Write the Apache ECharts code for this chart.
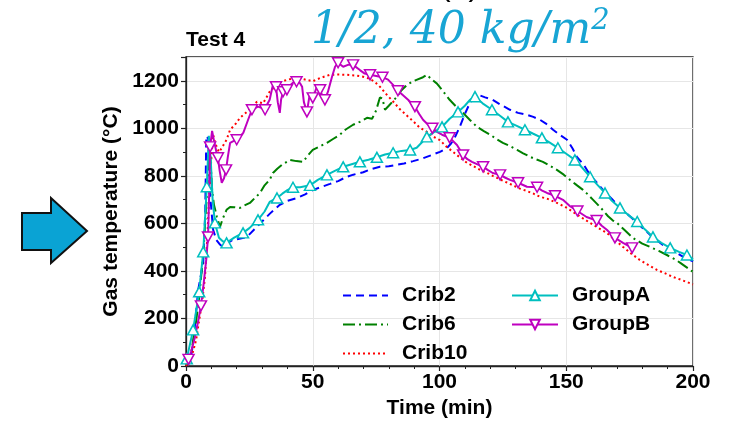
<!DOCTYPE html>
<html>
<head>
<meta charset="utf-8">
<script src="https://cdn.jsdelivr.net/npm/echarts@6/dist/echarts.min.js"></script>
<style>
  html, body { margin: 0; padding: 0; background: #fff; }
  #chart { width: 735px; height: 425px; }
</style>
</head>
<body>
<div id="chart"></div>
<script>
// time (min), gas temperature (°C)
const crib2 = [
  [0, 0], [1, 10], [2, 40], [3, 110], [4.8, 320], [6.8, 434], [7.6, 650], [8, 968], [8.8, 955], [9.5, 720],
  [10.7, 573], [12, 530], [13.5, 510], [14.6, 501], [16, 515], [18.5, 531], [21, 535], [24, 543], [27, 575],
  [30.4, 612], [33, 640], [37, 678], [40, 695], [43.8, 707], [47, 722], [50, 740], [53, 752], [56.8, 766],
  [60, 778], [63.4, 796], [66, 805], [69.9, 815], [73, 828], [76.5, 838], [80, 840], [83, 846], [86, 852],
  [89.6, 862], [93, 872], [97.5, 890], [100.2, 901], [103, 918], [104.5, 935], [106, 960], [108, 1006],
  [110, 1060], [112, 1107], [114, 1135], [115.2, 1141], [118, 1130], [121, 1120], [124, 1100], [127.8, 1078],
  [131, 1065], [134.5, 1057], [137, 1048], [139.6, 1036], [142, 1020], [144.8, 994], [147.5, 972],
  [150.3, 952], [152.5, 915], [154.2, 880], [157, 845], [159.4, 803], [162, 772], [164.5, 741], [168, 703],
  [171.2, 665], [174, 640], [176.3, 618], [180, 582], [184, 543], [188, 510], [192, 485], [196, 460], [200, 440]
];
const crib6 = [
  [0, 0], [1, 15], [2, 50], [3, 120], [4, 190], [5, 270], [6, 380], [7, 500], [8, 680], [8.7, 820], [9.5, 900],
  [10.3, 741], [11, 680], [12.2, 627], [13.4, 585], [14.5, 620], [16, 657], [17.4, 669], [19, 668], [21.3, 665],
  [23, 675], [25.2, 686], [27, 705], [29.2, 728], [31, 760], [33, 783], [34.3, 812], [36, 830], [38, 848],
  [41, 867], [43.5, 862], [46.2, 859], [48, 885], [50, 909], [53, 925], [55.6, 939], [58, 955], [60.7, 973],
  [63, 995], [65.9, 1015], [68.6, 1027], [71.4, 1044], [73.4, 1040], [75, 1075], [76.5, 1130], [77.5, 1125],
  [78.5, 1078], [80, 1095], [83.2, 1133], [85, 1160], [87.2, 1183], [90, 1200], [93.5, 1215], [95, 1225],
  [97, 1205], [99, 1188], [101.5, 1155], [104, 1120], [106.5, 1092], [109.3, 1065], [112, 1035], [114.8, 1006],
  [117.5, 988], [120, 973], [122.5, 955], [125, 939], [127.8, 925], [130.6, 909], [133, 895], [135.7, 880],
  [138, 870], [140.8, 859], [143.5, 843], [146.3, 825], [149, 805], [151.5, 783], [154, 762], [156.6, 741],
  [158.5, 722], [160.6, 699], [162.5, 678], [164.5, 655], [166.5, 630], [168.4, 612], [170, 602], [173, 572],
  [176.3, 539], [180, 515], [183, 501], [186.5, 484], [189.7, 467], [193, 448], [195, 434], [197.5, 415], [200, 396]
];
const crib10 = [
  [0, 0], [2, 30], [4, 110], [5, 180], [6.3, 265], [7.5, 375], [8.5, 560], [9.5, 800], [10.7, 973], [11.4, 943],
  [12.1, 922], [13, 900], [14, 915], [16, 952], [17.4, 994], [19.3, 1015], [21.3, 1044], [24, 1069], [26, 1090],
  [28, 1112], [30.4, 1105], [33, 1154], [35.8, 1183], [37.5, 1195], [39.8, 1204], [43.8, 1213], [47, 1205],
  [50, 1198], [53, 1212], [56.8, 1225], [60, 1226], [63.5, 1225], [67, 1222], [69.8, 1217], [72, 1210],
  [73.8, 1200], [75, 1190], [76.5, 1175], [79.3, 1140], [81.5, 1115], [84.4, 1080], [87, 1055], [89.6, 1030],
  [92, 1005], [95, 985], [97.5, 965], [100.2, 950], [102.5, 925], [105.3, 901], [108, 878], [110.8, 855],
  [113.5, 840], [116, 825], [118.5, 814], [121, 800], [123.5, 787], [126.6, 772], [129, 760], [131.8, 746],
  [134.5, 736], [136.9, 726], [139.6, 712], [142.4, 704], [146.3, 686], [149.5, 670], [152.7, 648], [156, 625],
  [159.4, 602], [162.5, 582], [166, 560], [169, 532], [172.4, 501], [176, 470], [179, 446], [182.5, 424],
  [185.8, 404], [189, 390], [192, 375], [196, 360], [200, 343]
];
const groupA = [
  [0.3, 30], [2.8, 152], [5.2, 312], [6.8, 480], [8.2, 754], [9, 968], [9.8, 860], [10.5, 700], [11.4, 602],
  [13, 540], [14.5, 525], [16, 518], [19, 540], [22.5, 560], [25, 580], [28.4, 615], [31, 650], [33, 690],
  [35.9, 707], [38, 725], [40, 740], [42.2, 752], [45, 752], [48.9, 760], [52, 783], [55.6, 804], [58.5, 820],
  [62, 838], [65, 848], [68.6, 859], [72, 868], [75.3, 878], [78.5, 890], [81.7, 897], [85, 905], [88.4, 909],
  [91, 918], [93, 940], [95, 964], [98, 985], [101, 1006], [104, 1040], [107.3, 1069], [110, 1095], [112, 1120],
  [114, 1133], [117, 1105], [120.7, 1078], [124, 1052], [127, 1027], [130.5, 1010], [133.7, 994], [137, 977],
  [140.4, 960], [143.5, 940], [146.7, 918], [150, 893], [153.4, 867], [156.5, 832], [159.4, 796], [162.5, 760],
  [165.3, 728], [168, 695], [171.2, 665], [174.5, 635], [178, 608], [181, 575], [184.2, 543], [187.5, 518],
  [191, 497], [194.5, 480], [197.6, 467], [200, 450]
];
const groupAMarks = [
  0.3, 2.8, 5.2, 6.8, 8.2, 11.4, 16, 22.5, 28.4, 35.9, 42.2, 48.9, 55.6, 62, 68.6, 75.3, 81.7, 88.4, 95, 101,
  107.3, 114, 120.7, 127, 133.7, 140.4, 146.7, 153.4, 159.4, 165.3, 171.2, 178, 184.2, 191, 197.6
];
const groupB = [
  [0, 20], [1, 28], [2, 60], [3.5, 120], [5, 200], [5.9, 253], [7, 350], [8, 450], [8.7, 543], [9.2, 750],
  [9.5, 922], [10.3, 989], [11, 950], [12, 900], [12.6, 876], [13.3, 820], [14.1, 771], [15, 790], [15.8, 825],
  [16.5, 880], [17.4, 939], [18.5, 945], [20, 952], [22.6, 981], [24.5, 1036], [26, 1078], [28.4, 1091],
  [30, 1085], [31.2, 1078], [32, 1100], [33, 1120], [34.3, 1183], [35.5, 1175], [36.2, 1110], [37, 1065],
  [37.5, 1120], [38.3, 1154], [39.8, 1162], [41, 1180], [42.2, 1192], [43.6, 1196], [45, 1190], [45.8, 1175],
  [46.5, 1110], [47.7, 1069], [48.9, 1149], [50, 1128], [50.8, 1150], [51.6, 1175], [52.9, 1162], [54, 1130],
  [54.8, 1120], [56, 1154], [57.6, 1217], [58.8, 1259], [60, 1276], [62, 1259], [63.9, 1267], [65.9, 1267],
  [68.6, 1245], [70.5, 1230], [72.6, 1225], [77.5, 1215], [79.7, 1205], [81.5, 1185], [83.6, 1158], [85.5, 1140],
  [87.6, 1120], [90.3, 1091], [92, 1060], [93.5, 1036], [95, 1020], [97.2, 1000], [99, 985], [101, 973],
  [104, 960], [106.9, 930], [109.3, 888], [111, 870], [112.8, 859], [115, 848], [117.2, 838], [119, 825],
  [121, 812], [123.9, 804], [126, 792], [127.8, 783], [131, 771], [134.5, 754], [138.5, 752], [140.5, 738],
  [142.4, 728], [145.6, 716], [148.7, 699], [151.5, 672], [154.4, 652], [158, 627], [162, 612], [164, 590],
  [166, 573], [169.2, 539], [172.4, 518], [176, 497], [176.7, 495]
];
const groupBMarks = [
  1, 5.9, 8.7, 9.5, 12.6, 15.8, 20, 26, 31.2, 35.5, 38.3, 39.8, 43.6, 47.7, 50, 52.9, 54.8, 60, 65.9, 72.6,
  77.5, 83.6, 90.3, 97.2, 104, 109.3, 117.2, 123.9, 131, 138.5, 145.6, 154.4, 162, 169.2, 176
];
const xTicks = [0, 50, 100, 150, 200];
const yTicks = [0, 200, 400, 600, 800, 1000, 1200];

const FONT = 'Liberation Sans';
const FS = 21;
const chart = echarts.init(document.getElementById('chart'));

const withMarks = (pts, marks) =>
  pts.map((p) => (marks.includes(p[0]) ? p : { value: p, symbol: 'none' }));

const plainLine = (name, data, color, dash) => ({
  name,
  type: 'line',
  data,
  showSymbol: false,
  symbol: 'none',
  lineStyle: { color, width: 2, type: dash },
  itemStyle: { color },
  z: 2
});

const markedLine = (name, data, marks, color, symbol) => ({
  name,
  type: 'line',
  data: withMarks(data, marks),
  symbol,
  symbolSize: [11, 10],
  showSymbol: true,
  showAllSymbol: true,
  lineStyle: { color, width: 2 },
  itemStyle: { color: '#fff', borderColor: color, borderWidth: 1.5 },
  z: 3
});

const legendText = {
  fontFamily: FONT, fontWeight: 'bold', fontSize: FS, color: '#000',
  lineHeight: 21, padding: [0, 0, 0, 9]
};
const boldText = { fontFamily: FONT, fontWeight: 'bold', fontSize: FS, color: '#000' };

const option = {
  animation: false,
  backgroundColor: '#fff',
  grid: {
    left: 186, right: 42, top: 57, bottom: 59,
    show: true, borderColor: '#222', borderWidth: 1.3
  },
  legend: [
    {
      data: ['Crib2', 'Crib6', 'Crib10'],
      orient: 'vertical', left: 337, top: 280,
      itemWidth: 45, itemHeight: 12, itemGap: 8,
      itemStyle: { opacity: 0 },
      textStyle: legendText
    },
    {
      data: ['GroupA', 'GroupB'],
      orient: 'vertical', left: 506, top: 280,
      itemWidth: 46, itemHeight: 12, itemGap: 8,
      textStyle: legendText
    }
  ],
  xAxis: {
    type: 'value',
    min: xTicks[0], max: xTicks[xTicks.length - 1], interval: 50,
    name: 'Time (min)', nameLocation: 'middle', nameGap: 25,
    nameTextStyle: boldText,
    axisLine: { lineStyle: { color: '#222', width: 1.3 } },
    axisTick: { length: 5, lineStyle: { color: '#222', width: 1.2 } },
    minorTick: { show: true, splitNumber: 5, length: 3, lineStyle: { color: '#222', width: 1 } },
    axisLabel: { ...boldText, margin: 6 },
    splitLine: { show: true, lineStyle: { color: '#e6e6e6', width: 1 } }
  },
  yAxis: [
    {
      type: 'value',
      min: yTicks[0], max: 1300, interval: 200,
      name: 'Gas temperature (°C)', nameLocation: 'middle', nameGap: 64,
      nameTextStyle: boldText,
      axisLine: { show: true, lineStyle: { color: '#222', width: 1.3 } },
      axisTick: { length: 5, lineStyle: { color: '#222', width: 1.2 } },
      axisLabel: {
        ...boldText, margin: 7,
        formatter: (v) => (yTicks.includes(v) ? String(v) : '')
      },
      splitLine: { show: true, lineStyle: { color: '#e6e6e6', width: 1 } }
    },
    {
      type: 'value', position: 'left', offset: 0,
      min: 0, max: 1300, interval: 100,
      axisLine: { show: false },
      axisTick: { show: true, length: 3, lineStyle: { color: '#222', width: 1 } },
      axisLabel: { show: false },
      splitLine: { show: false }
    }
  ],
  graphic: [
    {
      type: 'polygon',
      shape: { points: [[22, 213], [51, 213], [51, 198], [87, 231], [51, 263], [51, 250], [22, 250]] },
      style: { fill: '#0aa3d4', stroke: '#111', lineWidth: 2 }
    },
    {
      type: 'text', left: 186, top: 30,
      style: { text: 'Test 4', ...boldText, fill: '#000' }
    },
    {
      type: 'text', left: 440, top: -30,
      style: { text: '(b)', fontFamily: FONT, fontSize: 32, fill: '#000' }
    },
    {
      type: 'text', left: 311, top: 7,
      style: {
        text: '{a|1/2, 40 kg/m}{s|2}',
        rich: {
          a: { fontFamily: 'DejaVu Serif', fontStyle: 'italic', fontSize: 44, fill: '#18a5d4', lineHeight: 50 },
          s: { fontFamily: 'DejaVu Serif', fontStyle: 'italic', fontSize: 29, fill: '#18a5d4', verticalAlign: 'top', lineHeight: 50, padding: [0, 0, 14, 0] }
        }
      }
    }
  ],
  series: [
    plainLine('Crib2', crib2, '#0000ff', [8, 5]),
    plainLine('Crib6', crib6, '#008000', [12, 4, 2, 4]),
    plainLine('Crib10', crib10, '#ff0000', [2, 3]),
    markedLine('GroupA', groupA, groupAMarks, '#00bfbf', 'triangle'),
    markedLine('GroupB', groupB, groupBMarks, '#bf00bf', 'path://M0,0L12,0L6,10.4Z')
  ]
};

chart.setOption(option);
</script>
</body>
</html>
